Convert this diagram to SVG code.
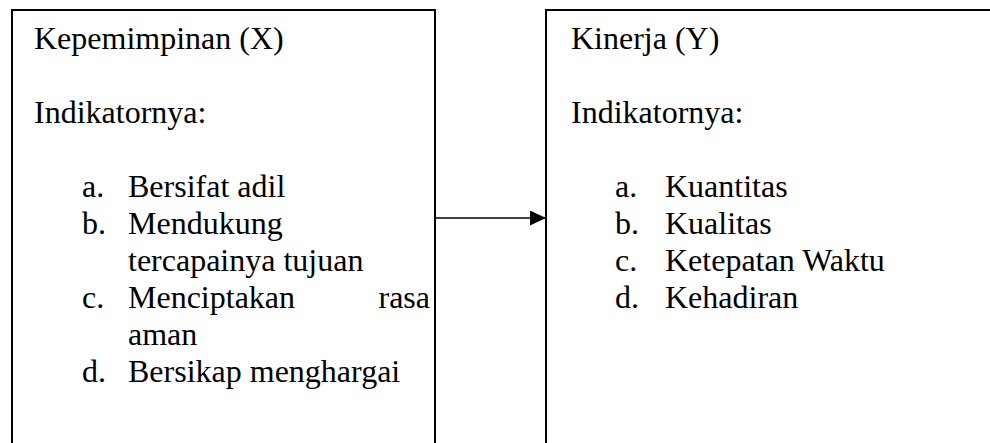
<svg xmlns="http://www.w3.org/2000/svg" width="990" height="443" viewBox="0 0 990 443">
<style>
.box{fill:none;stroke:#000;stroke-width:2}
.t{font-family:"Liberation Serif","Times New Roman",serif;font-size:32px;fill:#000}
</style>
<defs>
<marker id="ah" markerWidth="16" markerHeight="16" refX="16" refY="7.5" orient="auto" markerUnits="userSpaceOnUse">
<path d="M0,0 L16,7.5 L0,15 Z" fill="#000"/>
</marker>
</defs>
<rect width="990" height="443" fill="#fff"/>
<g id="node-x" class="t">
<path class="box" d="M12,450 V10 H435 V450"/>
<text x="34" y="49">Kepemimpinan (X)</text>
<text x="34" y="123">Indikatornya:</text>
<text x="82" y="197">a.</text><text x="128" y="197">Bersifat adil</text>
<text x="82" y="234">b.</text><text x="128" y="234">Mendukung</text>
<text x="128" y="271">tercapainya tujuan</text>
<text x="82" y="308">c.</text><text x="128" y="308">Menciptakan</text><text x="430" y="308" text-anchor="end">rasa</text>
<text x="128" y="345">aman</text>
<text x="82" y="382">d.</text><text x="128" y="382">Bersikap menghargai</text>
</g>
<g id="node-y" class="t">
<path class="box" d="M546,450 V10 H995"/>
<text x="571" y="49">Kinerja (Y)</text>
<text x="571" y="123">Indikatornya:</text>
<text x="615" y="197">a.</text><text x="665" y="197">Kuantitas</text>
<text x="615" y="234">b.</text><text x="665" y="234">Kualitas</text>
<text x="615" y="271">c.</text><text x="665" y="271">Ketepatan Waktu</text>
<text x="615" y="308">d.</text><text x="665" y="308">Kehadiran</text>
</g>
<g id="connectors">
<line x1="435" y1="218" x2="546" y2="218" stroke="#000" stroke-width="1.5" marker-end="url(#ah)"/>
</g>
</svg>
